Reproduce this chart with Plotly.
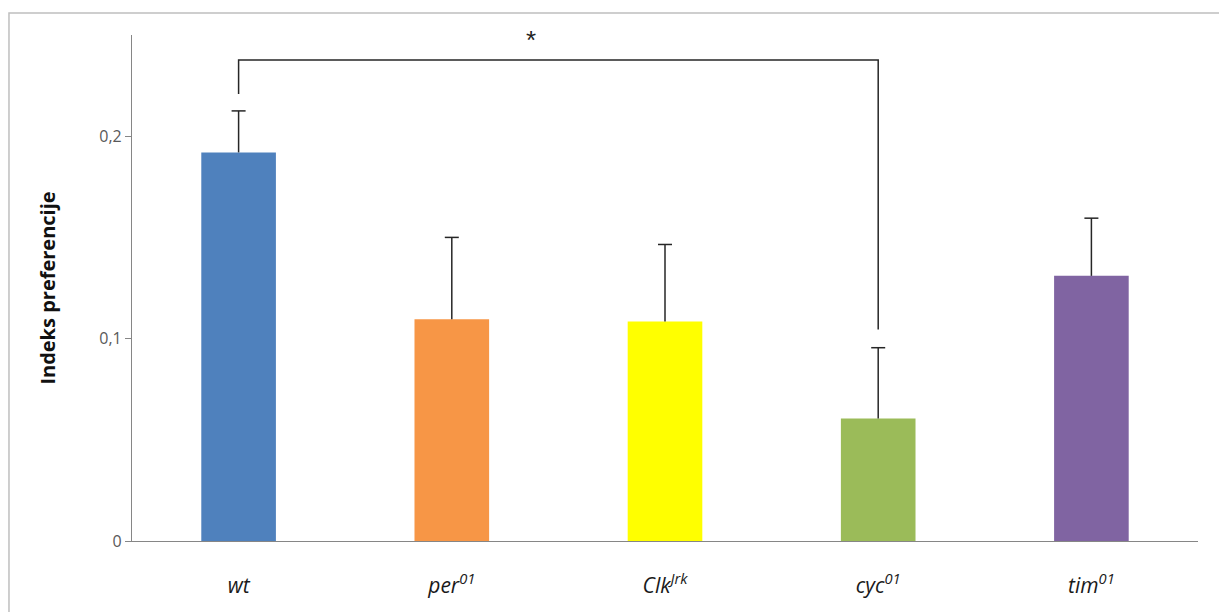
import plotly.graph_objects as go

categories = ["wt", "per01", "ClkJrk", "cyc01", "tim01"]
tick_labels = ["<i>wt</i>", "<i>per<sup>01</sup></i>", "<i>Clk<sup>Jrk</sup></i>",
               "<i>cyc<sup>01</sup></i>", "<i>tim<sup>01</sup></i>"]
values = [0.192, 0.1095, 0.1085, 0.0605, 0.131]
errors_plus = [0.0205, 0.0405, 0.038, 0.035, 0.0285]
colors = ["#4F81BD", "#F79646", "#FFFF00", "#9BBB59", "#8064A2"]
y_ticks = [0, 0.1, 0.2]
y_tick_text = ["0", "0,1", "0,2"]
bracket_y = 0.2376
bracket_left_bottom = 0.2208
bracket_right_bottom = 0.1045

fig = go.Figure()
fig.add_trace(go.Bar(
    x=categories, y=values,
    marker=dict(color=colors, line=dict(width=0)),
    error_y=dict(type="data", symmetric=False, array=errors_plus,
                 arrayminus=[0] * len(values), color="#262626",
                 thickness=1.5, width=0),
    width=0.35,
    showlegend=False,
))

# caps on top of the error bars
fig.add_trace(go.Scatter(
    x=categories, y=[v + e for v, e in zip(values, errors_plus)],
    mode="markers",
    marker=dict(symbol="line-ew", size=10,
                line=dict(color="#262626", width=1.5)),
    showlegend=False, hoverinfo="skip",
))

# significance bracket
fig.add_trace(go.Scatter(
    x=[categories[0], categories[0], categories[3], categories[3]],
    y=[bracket_left_bottom, bracket_y, bracket_y, bracket_right_bottom],
    mode="lines", line=dict(color="#262626", width=1.5),
    showlegend=False, hoverinfo="skip",
))

fig.add_annotation(x=0.374, y=0.99, xref="paper", yref="paper", text="*",
                   showarrow=False, font=dict(size=26, color="#222222",
                                              family="Liberation Sans"),
                   xanchor="center", yanchor="middle")

# outer frame
fig.add_shape(type="rect", xref="paper", yref="paper",
              x0=-0.1154, x1=1.03, y0=-0.16, y1=1.0435,
              line=dict(color="#BFBFBF", width=1.5), layer="below")

fig.update_layout(
    width=1219, height=612,
    margin=dict(l=132, r=21, t=35, b=71),
    paper_bgcolor="white", plot_bgcolor="white",
    font=dict(family="Lato", color="#222222"),
    xaxis=dict(
        tickmode="array", tickvals=categories, ticktext=tick_labels,
        tickfont=dict(size=21, color="#1a1a1a", family="Open Sans"),
        ticklabelstandoff=26,
        showline=True, linecolor="#868686", linewidth=1.2,
        ticks="", showgrid=False, zeroline=False,
        range=[-0.5, 4.5],
    ),
    yaxis=dict(
        range=[0, 0.25],
        tickmode="array", tickvals=y_ticks, ticktext=y_tick_text,
        tickfont=dict(size=16, color="#595959", family="Open Sans"),
        showline=True, linecolor="#868686", linewidth=1.2,
        ticks="outside", ticklen=6, tickcolor="#868686",
        showgrid=False, zeroline=False,
        title=dict(text="<b>Indeks preferencije</b>",
                   font=dict(size=20, color="#111111", family="Open Sans"),
                   standoff=38),
    ),
)

fig.write_html("out.html")
